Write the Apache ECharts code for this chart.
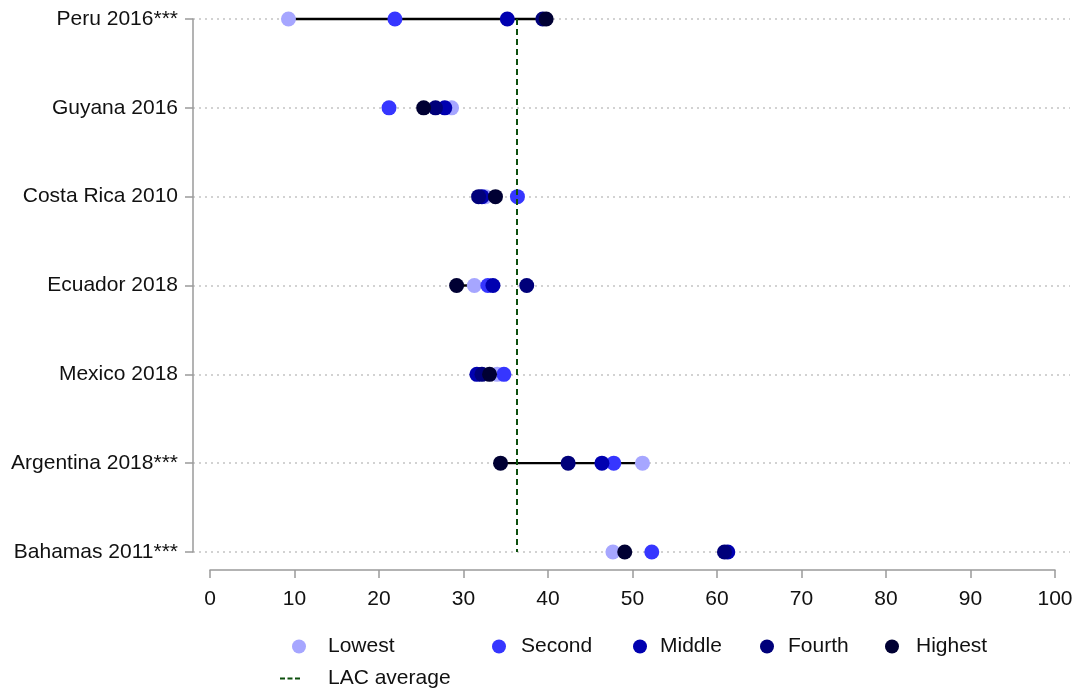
<!DOCTYPE html>
<html>
<head>
<meta charset="utf-8">
<script src="https://cdn.jsdelivr.net/npm/echarts@6/dist/echarts.min.js"></script>
<style>html,body{margin:0;padding:0;background:#fff;}#c{width:1077px;height:691px;}</style>
</head>
<body>
<div id="c"></div>
<script>
const categories = ['Peru 2016***','Guyana 2016','Costa Rica 2010','Ecuador 2018','Mexico 2018','Argentina 2018***','Bahamas 2011***'];
const lowest  = [9.3, 28.6, 32.6, 31.3, 34.0, 51.2, 47.7];
const second  = [21.9, 21.2, 36.4, 32.9, 34.8, 47.8, 52.3];
const middle  = [35.2, 27.8, 32.2, 33.5, 31.6, 46.4, 61.3];
const fourth  = [39.4, 26.7, 31.8, 37.5, 32.2, 42.4, 60.9];
const highest = [39.8, 25.3, 33.8, 29.2, 33.1, 34.4, 49.1];
const lacAverage = 36.3;
const xTicks = [0, 100, 10];

const FONT = 'Liberation Sans, Arial, sans-serif';
const FS = 21;
const AXIS_COLOR = '#9a9a9a';
const groups = [
  {name:'Lowest', data:lowest, color:'#a6a6ff', cx:299, tx:328},
  {name:'Second', data:second, color:'#3636ff', cx:499, tx:521},
  {name:'Middle', data:middle, color:'#0000b0', cx:640, tx:660},
  {name:'Fourth', data:fourth, color:'#00007a', cx:767, tx:788},
  {name:'Highest', data:highest, color:'#000033', cx:892, tx:916}
];

const chart = echarts.init(document.getElementById('c'), null, {renderer:'canvas'});

const series = [];
series.push({
  type:'custom', name:'range', xAxisIndex:0, yAxisIndex:0, z:1, silent:true,
  data: categories.map((c,i)=>[lowest[i], highest[i], i]),
  encode:{x:[0,1], y:2},
  renderItem:function(params, api){
    const p1 = api.coord([api.value(0), api.value(2)]);
    const p2 = api.coord([api.value(1), api.value(2)]);
    return {type:'line', shape:{x1:p1[0], y1:p1[1], x2:p2[0], y2:p2[1]}, style:{stroke:'#000', lineWidth:2.4}};
  }
});
groups.forEach((g, k)=>{
  series.push({
    type:'scatter', name:g.name, xAxisIndex:0, yAxisIndex:0, z:2+k,
    symbol:'circle', symbolSize:15,
    itemStyle:{color:g.color, opacity:1},
    data: categories.map((c,i)=>[g.data[i], c])
  });
});
series.push({
  type:'line', name:'LAC average', xAxisIndex:0, yAxisIndex:0, data:[], symbol:'none',
  itemStyle:{color:'#0d4f0d'}, lineStyle:{color:'#0d4f0d', type:[6,4], width:2},
  markLine:{
    silent:true, symbol:'none', z:10,
    label:{show:false},
    lineStyle:{color:'#0d4f0d', type:[6,4], width:2},
    data:[{xAxis: lacAverage}]
  }
});

const legends = groups.map(g=>({
  data:[g.name], left:g.cx-7, top:636, padding:0,
  icon:'circle', itemWidth:14, itemHeight:14,
  textStyle:{fontFamily:FONT, fontSize:FS, color:'#111', padding:[0,0,0,g.tx-g.cx-12]},
  selectedMode:false
}));
legends.push({
  data:[{name:'LAC average', icon:'path://M0,0h5v2h-5z M7.5,0h5v2h-5z M15,0h5v2h-5z'}],
  left:280, top:668, padding:0, itemWidth:20, itemHeight:2,
  textStyle:{fontFamily:FONT, fontSize:FS, color:'#111', padding:[0,0,0,328-280-20-5]},
  selectedMode:false
});

chart.setOption({
  animation:false,
  backgroundColor:'#fff',
  textStyle:{fontFamily:FONT},
  grid:[
    {left:193, right:7, top:19, bottom:139},
    {left:210, right:22, top:19, bottom:139}
  ],
  xAxis:[
    {type:'value', gridIndex:0, min:-2, max:101.8, show:false, splitLine:{show:false}},
    {type:'value', gridIndex:1, position:'bottom', min:xTicks[0], max:xTicks[1], interval:xTicks[2], offset:18,
     axisLine:{show:true, onZero:false, lineStyle:{color:AXIS_COLOR, width:1.5}},
     axisTick:{show:true, length:8, lineStyle:{color:AXIS_COLOR, width:1.5}},
     axisLabel:{fontFamily:FONT, fontSize:FS, color:'#111', margin:19},
     splitLine:{show:false}}
  ],
  yAxis:[
    {type:'category', gridIndex:0, position:'left', data:categories, inverse:true, boundaryGap:false,
     axisLine:{show:true, onZero:false, lineStyle:{color:AXIS_COLOR, width:1.5}},
     axisTick:{show:true, length:8, alignWithLabel:true, lineStyle:{color:AXIS_COLOR, width:1.5}},
     axisLabel:{fontFamily:FONT, fontSize:FS, color:'#111', margin:15, padding:[4,0,0,0]},
     splitLine:{show:true, lineStyle:{color:'#c4c4c4', type:[2,4], width:1.5}}},
    {type:'value', gridIndex:1, show:false, splitLine:{show:false}}
  ],
  legend:legends,
  series:series
});
</script>
</body>
</html>
